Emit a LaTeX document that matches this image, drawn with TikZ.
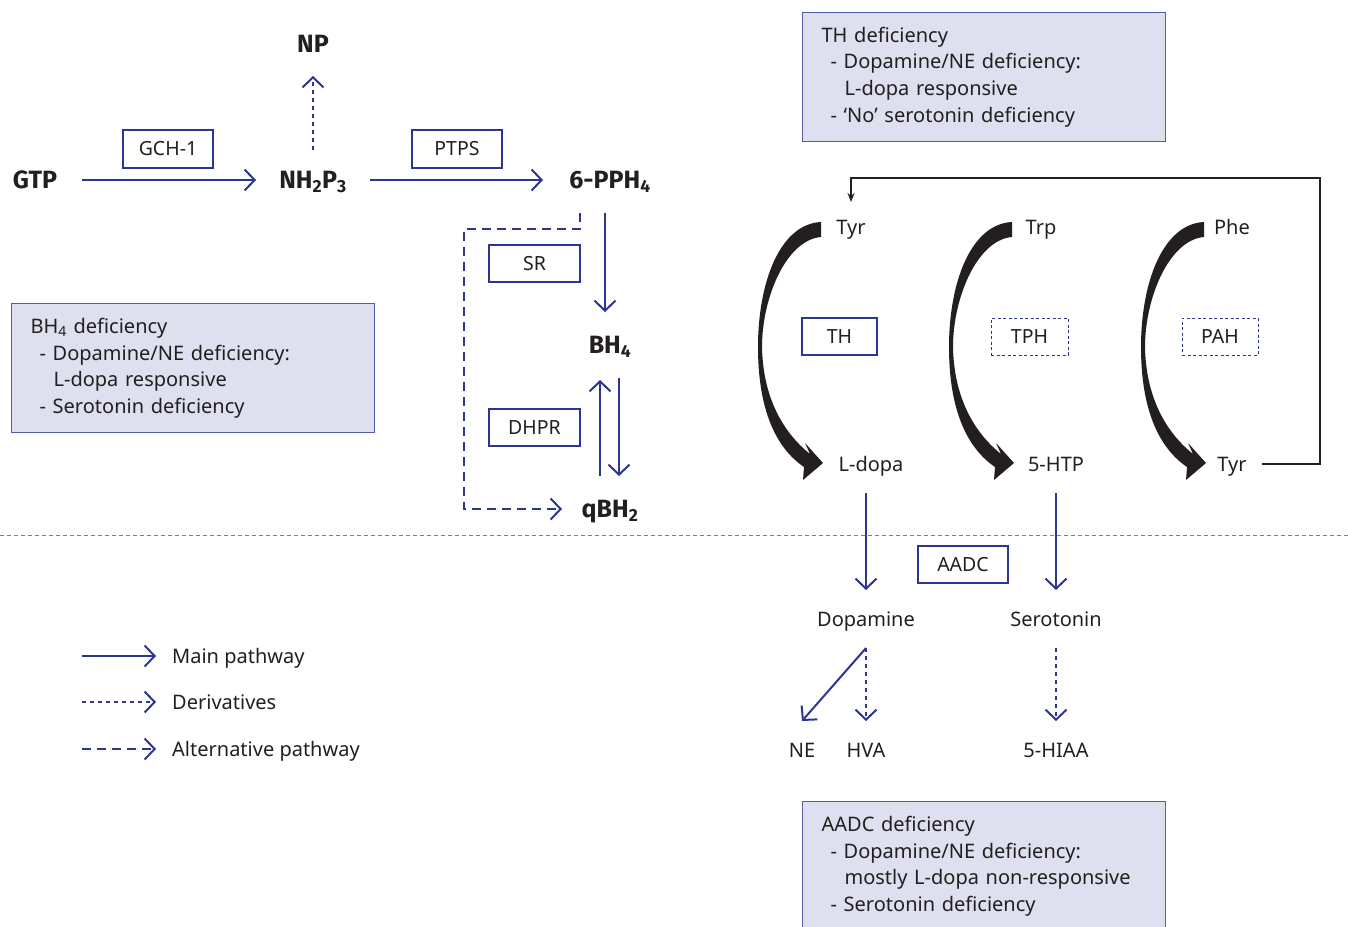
\documentclass[tikz,border=0pt]{standalone}
\usepackage{fontspec}
\setmainfont{Noto Sans}
\newfontfamily\boldfam{Fira Sans}
\usetikzlibrary{arrows.meta,calc}
\definecolor{pblue}{RGB}{44,54,146}
\definecolor{ink}{RGB}{35,31,32}
\definecolor{deffill}{RGB}{222,224,239}
\definecolor{defline}{RGB}{84,94,168}
\tikzset{
 lbl/.style={font=\fontsize{20}{23}\selectfont, text=ink, inner sep=0pt, text height=14pt, text depth=0pt},
 blbl/.style={font=\fontsize{25}{28}\boldfam\bfseries, text=ink, inner sep=0pt, text height=17pt, text depth=0pt},
 enz/.style={draw=pblue, line width=1.2pt, fill=white, font=\fontsize{19.5}{22}\selectfont, text=ink, inner sep=0pt},
 enzdash/.style={enz, dash pattern=on 3pt off 2.5pt, line width=1pt},
 defbox/.style={draw=defline, fill=deffill, line width=1.2pt, font=\fontsize{20}{26.7}\selectfont, text=ink, align=left, text width=325pt, inner xsep=19pt, inner ysep=0pt, minimum width=363pt, minimum height=129pt, anchor=north west},
 main/.style={pblue, line width=2pt, -{Straight Barb[length=10pt,width=21pt]}},
 deriv/.style={main, dash pattern=on 4pt off 4pt},
 alt/.style={main, dash pattern=on 9pt off 6pt},
 fb/.style={ink, line width=2pt, -{Stealth[length=9pt,width=7pt]}},
}
\begin{document}
\begin{tikzpicture}[x=1pt,y=-1pt]
\useasboundingbox (0,0) rectangle (1348,926);
\clip (0,0) rectangle (1348,926);
\fill[white] (0,0) rectangle (1348,926);

% deficiency boxes
\node[defbox] (thbox) at (802,12) {TH deficiency\\\hspace*{9pt}- Dopamine/NE deficiency:\\\hspace*{23pt}L-dopa responsive\\\hspace*{9pt}- ‘No’ serotonin deficiency};
\node[defbox] (bhbox) at (11,303) {BH\textsubscript{4} deficiency\\\hspace*{9pt}- Dopamine/NE deficiency:\\\hspace*{23pt}L-dopa responsive\\\hspace*{9pt}- Serotonin deficiency};
\node[defbox] (aadcbox) at (802,801) {AADC deficiency\\\hspace*{9pt}- Dopamine/NE deficiency:\\\hspace*{23pt}mostly L-dopa non-responsive\\\hspace*{9pt}- Serotonin deficiency};

% bold metabolites
\node[blbl] (GTP) at (35,180) {GTP};
\node[blbl] (NH) at (313,180) {NH\textsubscript{2}P\textsubscript{3}};
\node[blbl] (PPH) at (610,180) {6-PPH\textsubscript{4}};
\node[blbl] (NP) at (313,44) {NP};
\node[blbl] (BH4) at (610,345) {BH\textsubscript{4}};
\node[blbl] (qBH2) at (610,509) {qBH\textsubscript{2}};

% enzyme boxes
\node[enz, minimum width=90pt, minimum height=38pt] (GCH) at (168,149) {GCH-1};
\node[enz, minimum width=90pt, minimum height=38pt] (PTPS) at (457,149) {PTPS};
\node[enz, minimum width=91pt, minimum height=37pt] (SR) at (534.5,263.5) {SR};
\node[enz, minimum width=91pt, minimum height=37pt] (DHPR) at (534.5,427.5) {DHPR};
\node[enz, minimum width=75pt, minimum height=37pt] (TH) at (839.5,336.5) {TH};
\node[enzdash, minimum width=77pt, minimum height=37pt] (TPH) at (1029.5,336.5) {TPH};
\node[enzdash, minimum width=76pt, minimum height=37pt] (PAH) at (1220,336.5) {PAH};
\node[enz, minimum width=90pt, minimum height=37pt] (AADC) at (963,564.5) {AADC};

% amino acids etc.
\node[lbl] (Tyr1) at (851,227) {Tyr};
\node[lbl] (Trp) at (1041,227) {Trp};
\node[lbl] (Phe) at (1232,227) {Phe};
\node[lbl] (Ldopa) at (871,464) {L-dopa};
\node[lbl] (HTP) at (1056,464) {5-HTP};
\node[lbl] (Tyr2) at (1232,464) {Tyr};
\node[lbl] (Dop) at (866,619) {Dopamine};
\node[lbl] (Ser) at (1056,619) {Serotonin};
\node[lbl] (NE) at (802,750) {NE};
\node[lbl] (HVA) at (866,750) {HVA};
\node[lbl] (HIAA) at (1056,750) {5-HIAA};

% legend
\node[lbl, anchor=west] (leg1) at (172,656) {Main pathway};
\node[lbl, anchor=west] (leg2) at (172,702) {Derivatives};
\node[lbl, anchor=west] (leg3) at (172,749) {Alternative pathway};
\draw[main] ($(leg1.west)+(-90,0)$) -- ($(leg1.west)+(-16,0)$);
\draw[deriv] ($(leg2.west)+(-90,0)$) -- ($(leg2.west)+(-16,0)$);
\draw[alt] ($(leg3.west)+(-90,0)$) -- ($(leg3.west)+(-16,0)$);

% BH4 pathway arrows
\draw[main] ($(GTP)+(47,0)$) -- ($(NH)+(-57,0)$);
\draw[main] ($(NH)+(57,0)$) -- ($(PPH)+(-67,0)$);
\draw[deriv] ($(NH)+(0,-30)$) -- ($(NP)+(0,32)$);
\draw[main] ($(PPH)+(-5,33)$) -- ($(BH4)+(-5,-33)$);
\draw[main] ($(qBH2)+(-10,-33)$) -- ($(BH4)+(-10,35)$);
\draw[main] ($(BH4)+(9,33)$) -- ($(qBH2)+(9,-33)$);
\draw[alt] ($(PPH)+(-30,33)$) -- ++(0,16) -- ++(-116,0) |- ($(qBH2)+(-48,0)$);

% curved conversion arrows
\foreach \dx in {0,191,383} {
 \fill[ink, xshift=\dx pt] (821,222) .. controls (780,224) and (758,282) .. (758,347)
   .. controls (758,410) and (776,448) .. (804,467) -- (803,480) -- (823,463) -- (805,443) -- (810,454)
   .. controls (785,434) and (763,400) .. (762,347) .. controls (762,298) and (786,240) .. (821,237) -- cycle;
}

% feedback Tyr
\draw[fb] ($(Tyr2)+(30,0)$) -- ++(58,0) |- ($(Tyr1)+(0,-49)$) -- ($(Tyr1)+(0,-25)$);

% divider
\draw[gray, line width=0.8pt, dash pattern=on 4pt off 3pt] (0,535) -- (1348,535);

% lower pathway
\draw[main] ($(Ldopa)+(-5,29)$) -- ($(Dop)+(0,-29)$);
\draw[main] ($(HTP)+(0,29)$) -- ($(Ser)+(0,-29)$);
\draw[main] ($(Dop)+(0,29)$) -- ($(NE)+(0,-29)$);
\draw[deriv] ($(Dop)+(0,29)$) -- ($(HVA)+(0,-29)$);
\draw[deriv] ($(Ser)+(0,29)$) -- ($(HIAA)+(0,-29)$);
\end{tikzpicture}
\end{document}
